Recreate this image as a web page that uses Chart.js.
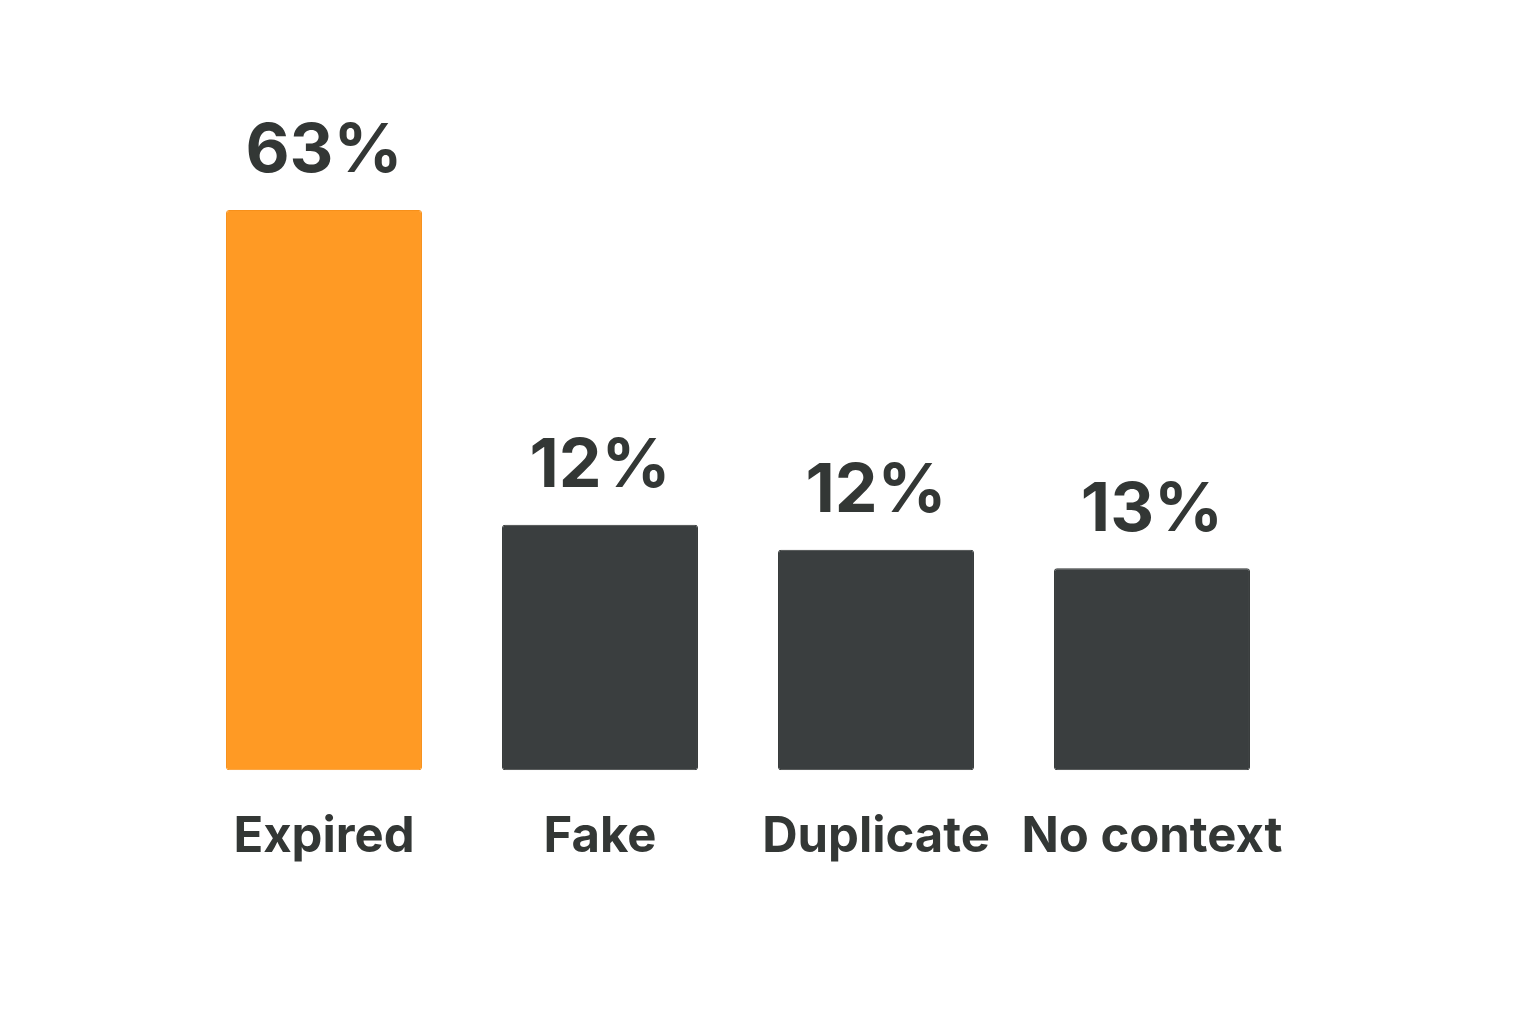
<!DOCTYPE html>
<html>
<head>
<meta charset="utf-8">
<script src="https://cdn.jsdelivr.net/npm/chart.js@4/dist/chart.umd.min.js"></script>
<style>
  html, body { margin: 0; padding: 0; background: #ffffff; }
  #wrap { width: 1536px; height: 1024px; }
</style>
</head>
<body>
<div id="wrap"><canvas id="chart" width="1536" height="1024"></canvas></div>
<script>
// Kategorier och värden
const categories = ["Expired", "Fake", "Duplicate", "No context"];
// Procenttexten som står ovanför varje stapel
const shareLabels = ["63%", "12%", "12%", "13%"];
// Stapelhöjderna så som de är ritade (i samma skala som 63 för Expired)
const barHeights = [63, 27.6, 24.8, 22.7];
const barColors = ["#FF9A24", "#3A3E3F", "#3A3E3F", "#3A3E3F"];
const borderColors = ["#F7901A", "#353939", "#353939", "#353939"];

const textColor = "#333735";
const fontFamily = "Inter, 'Noto Sans', sans-serif";

/**
 * Ritar procenttexten ovanför varje stapel.
 */
const valueLabels = {
    id: "valueLabels",
    afterDatasetsDraw(chart) {
        const ctx = chart.ctx;
        const meta = chart.getDatasetMeta(0);
        ctx.save();
        ctx.fillStyle = textColor;
        ctx.font = `700 68px ${fontFamily}`;
        ctx.textAlign = "center";
        ctx.textBaseline = "middle";
        meta.data.forEach((bar, i) => {
            ctx.fillText(shareLabels[i], bar.x, bar.y - 58);
        });
        ctx.restore();
    },
};

new Chart(document.querySelector("#chart"), {
    type: "bar",
    data: {
        labels: categories,
        datasets: [{
            data: barHeights,
            backgroundColor: barColors,
            borderColor: borderColors,
            borderWidth: 1,
            borderRadius: 3,
            borderSkipped: false,
            barPercentage: 0.71,
            categoryPercentage: 1,
        }],
    },
    options: {
        responsive: false,
        animation: false,
        layout: { padding: { left: 186, right: 246, top: 210, bottom: 127 } },
        plugins: { legend: { display: false }, tooltip: { enabled: false } },
        scales: {
            x: {
                grid: { display: false },
                border: { display: false },
                ticks: {
                    color: textColor,
                    font: { family: fontFamily, size: 49, weight: "700" },
                    padding: 30,
                },
            },
            y: {
                display: false,
                min: 0,
                max: 63,
            },
        },
    },
    plugins: [valueLabels],
});
</script>
</body>
</html>
